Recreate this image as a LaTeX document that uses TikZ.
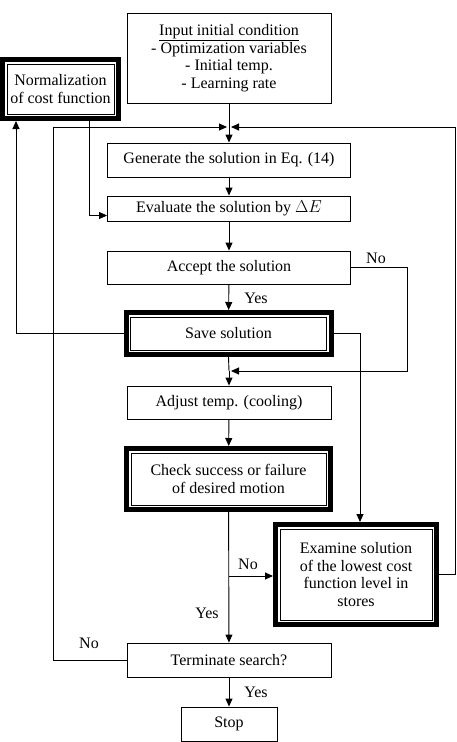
\documentclass[tikz,border=0pt]{standalone}
\usepackage{fontspec}
\setmainfont{Liberation Serif}
\usetikzlibrary{arrows.meta}

\tikzset{
    box/.style={draw, line width=0.9pt, align=center, inner sep=1pt,
        font=\fontsize{16}{17.5}\selectfont},
    dbox/.style={box, line width=5pt,
        path picture={\draw[line width=0.9pt]
            ([shift={(4.5pt,-4.5pt)}]path picture bounding box.north west) rectangle
            ([shift={(-4.5pt,4.5pt)}]path picture bounding box.south east);}},
    arr/.style={line width=0.9pt, -{Triangle[length=8pt,width=7pt]}},
    lbl/.style={font=\fontsize{16}{17.5}\selectfont}
}

\begin{document}
\begin{tikzpicture}[x=1pt,y=-1pt]
    \useasboundingbox (0,0) rectangle (457,742);

    % main column
    \node[box, minimum width=204, minimum height=90] (input) at (229,58)
        {\underline{Input initial condition}\\- Optimization variables\\- Initial temp.\\- Learning rate};
    \node[box, minimum width=243, minimum height=34] (gen) at (229,160) {Generate the solution in Eq. (14)};
    \node[box, minimum width=243, minimum height=25] (eval) at (229,208.5) {Evaluate the solution by $\Delta E$};
    \node[box, minimum width=243, minimum height=33] (accept) at (229,267.5) {Accept the solution};
    \node[dbox, minimum width=205, minimum height=42] (save) at (228.5,333.5) {Save solution};
    \node[box, minimum width=204, minimum height=33] (adjust) at (229,402.5) {Adjust temp. (cooling)};
    \node[dbox, minimum width=204, minimum height=61] (check) at (228.5,479) {Check success or failure\\of desired motion};
    \node[box, minimum width=204, minimum height=34] (term) at (229,660) {Terminate search?};
    \node[box, minimum width=96, minimum height=34] (stop) at (229,724) {Stop};

    % side boxes
    \node[dbox, minimum width=116, minimum height=59] (norm) at (60.5,89) {Normalization\\of cost function};
    \node[dbox, minimum width=161, minimum height=100] (exam) at (356,574.5)
        {Examine solution\\of the lowest cost\\function level in\\stores};

    % junctions
    \coordinate (merge) at (229,127);
    \coordinate (lft) at (53,127);
    \coordinate (rgt) at (455,127);
    \coordinate (nrmin) at (16,121);
    \coordinate (nrmout) at (89,119);
    \coordinate (nojoin) at (229,371);
    \coordinate (chkno) at (229,576);

    \draw[line width=0.9pt] (input.south) -- (merge);
    \draw[arr] (merge) -- (gen.north);
    \draw[arr] (gen) -- (eval);
    \draw[arr] (eval) -- (accept);
    \draw[arr] (accept) -- (save);
    \draw[line width=0.9pt] (save.south) -- (nojoin);
    \draw[arr] (nojoin) -- (adjust.north);
    \draw[arr] (adjust) -- (check);
    \draw[arr] (check) -- (term);
    \draw[arr] (term) -- (stop);

    \draw[arr] (term.west) -| (lft) -- ([xshift=-2pt]merge);
    \draw[arr] (exam.east) -| (rgt) -- ([xshift=2pt]merge);
    \draw[arr] (save.west) -| (nrmin);
    \draw[arr] (nrmout) |- ([yshift=-7pt]eval.west);
    \draw[arr] (accept.east) -- ++(56,0) |- ([xshift=2pt]nojoin);
    \draw[arr] (save.east) -| ([xshift=4pt]exam.north);
    \draw[arr] (chkno) -- (chkno -| exam.west);

    \node[lbl] at (376,258) {No};
    \node[lbl] at (256,298) {Yes};
    \node[lbl] at (248,564) {No};
    \node[lbl] at (207,613) {Yes};
    \node[lbl] at (89,643) {No};
    \node[lbl] at (256,692) {Yes};
\end{tikzpicture}
\end{document}
